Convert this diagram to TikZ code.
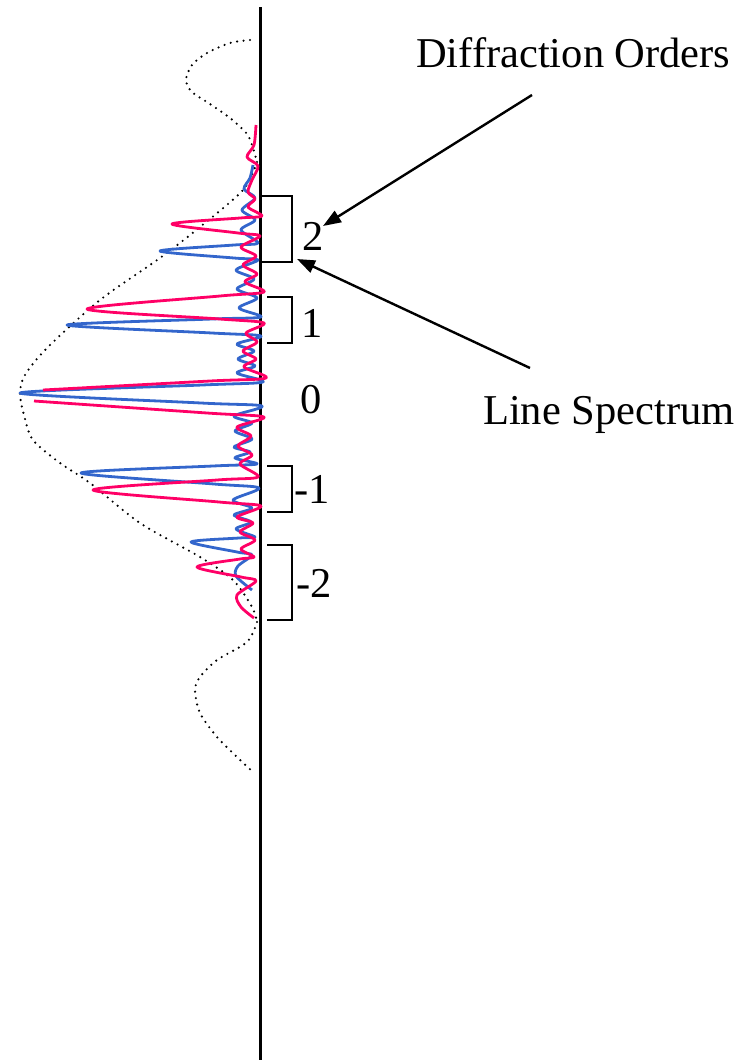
\documentclass[tikz,border=0pt]{standalone}
\usepackage{fontspec}
\setmainfont{Liberation Serif}
\usepackage{xcolor}
\usetikzlibrary{arrows.meta}
\definecolor{specpink}{RGB}{255,0,102}
\definecolor{specblue}{RGB}{51,102,204}
\tikzset{
  axisline/.style={line width=3pt},
  envelope/.style={line width=2.4pt, line cap=round, dash pattern=on 0pt off 6.5pt},
  bluespec/.style={specblue, line width=2.8pt, line join=round},
  pinkspec/.style={specpink, line width=2.8pt, line join=round},
  orderbracket/.style={line width=2.8pt},
  ordernum/.style={inner sep=0pt, anchor=base},
  callout/.style={inner sep=0pt, anchor=base west},
  pointer/.style={line width=2.4pt, -{Triangle[length=18pt,width=13pt]}},
}
\newcommand{\bigtext}{\fontsize{42.5}{50}\selectfont}

\begin{document}
\begin{tikzpicture}[x=1pt, y=-1pt, font=\bigtext]
\useasboundingbox (0,0) rectangle (751,1060);

% ── Achse ──────────────────────────────────────────────────────────────────
\draw[axisline] (260,7) -- (260,1060);

% ── Einhüllende (punktiert) ─────────────────────────────────────────────────
\draw[envelope] plot[smooth] coordinates {(250,40) (230,43) (207,53) (192,65)
  (186,80) (192,92) (210,104) (230,118) (247,134) (253,148) (257,162)};
\draw[envelope] plot[smooth] coordinates {(257,162) (243,190) (200,227) (160,258)
  (100,300) (47,348) (25,375) (20,393) (24,415) (33,440) (60,463) (90,483)
  (140,523) (200,557) (233,580) (252,607) (257,622)};
\draw[envelope] plot[smooth] coordinates {(257,622) (247,642) (217,660) (200,677)
  (195,690) (200,713) (217,737) (237,757) (253,772)};

% ── Spektren ────────────────────────────────────────────────────────────────
\draw[bluespec] plot[smooth] coordinates {(253,165) (250,178) (244,189) (255,198)
  (242,210) (255,220) (241,230) (258,243) (234,245) (160,251) (234,258) (258,260)
  (236,270) (254,279) (237,289) (257,298) (239,308) (261,317) (212,319) (67,325)
  (212,333) (261,336) (237,344) (254,351) (238,359) (255,366) (237,373) (263,382)
  (202,385) (20,393) (201,403) (262,406) (234,416) (252,423) (235,431) (252,439)
  (234,447) (250,452) (235,458) (257,464) (213,466) (81,473) (214,484) (259,488)
  (233,500) (252,508) (234,515) (251,522) (236,529) (255,537) (239,538) (191,542)
  (237,552) (252,555) (238,566) (236,576) (252,590)};

\draw[pinkspec] plot[smooth] coordinates {(256,125) (254,145) (247,157) (258,166)
  (252,180) (248,192) (255,199) (248,207) (262,216) (240,218) (172,224) (238,233)
  (260,236) (241,247) (256,256) (243,265) (257,274) (245,282) (264,292) (220,296)
  (87,309) (220,319) (264,323) (246,333) (257,342) (243,351) (256,359) (244,367)
  (266,378) (210,381) (43,390)};
\draw[pinkspec] plot[smooth] coordinates {(34,401) (207,413) (264,417) (237,427)
  (251,436) (238,446) (252,455) (240,464) (258,477) (217,480) (93,490) (219,502)
  (261,506) (237,517) (253,523) (240,532) (255,540) (241,549) (254,557) (240,559)
  (197,567) (241,577) (256,581) (237,595) (241,607) (254,618)};

% ── Klammern der Ordnungen ──────────────────────────────────────────────────
\draw[orderbracket] (260,196) -- (292,196) -- (292,262) -- (260,262);
\draw[orderbracket] (267,297) -- (292,297) -- (292,343) -- (267,343);
\draw[orderbracket] (267,466) -- (292,466) -- (292,512) -- (267,512);
\draw[orderbracket] (267,545) -- (292,545) -- (292,620) -- (267,620);

\node[ordernum] (ord2) at (313,250) {2};
\node[ordernum] (ord1) at (312,337) {1};
\node[ordernum] (ord0) at (311,413) {0};
\node[ordernum] (ordm1) at (312,503) {-1};
\node[ordernum] (ordm2) at (314,597) {-2};

% ── Beschriftungen mit Pfeilen ──────────────────────────────────────────────
\node[callout] (difforders) at (416,67) {Diffraction Orders};
\node[callout] (linespec) at (483,424) {Line Spectrum};

\coordinate (doTail) at (532,95);
\coordinate (doTip) at (323,226);
\coordinate (lsTail) at (530,368);
\coordinate (lsTip) at (297,259);
\draw[pointer] (doTail) -- (doTip);
\draw[pointer] (lsTail) -- (lsTip);

\end{tikzpicture}
\end{document}
